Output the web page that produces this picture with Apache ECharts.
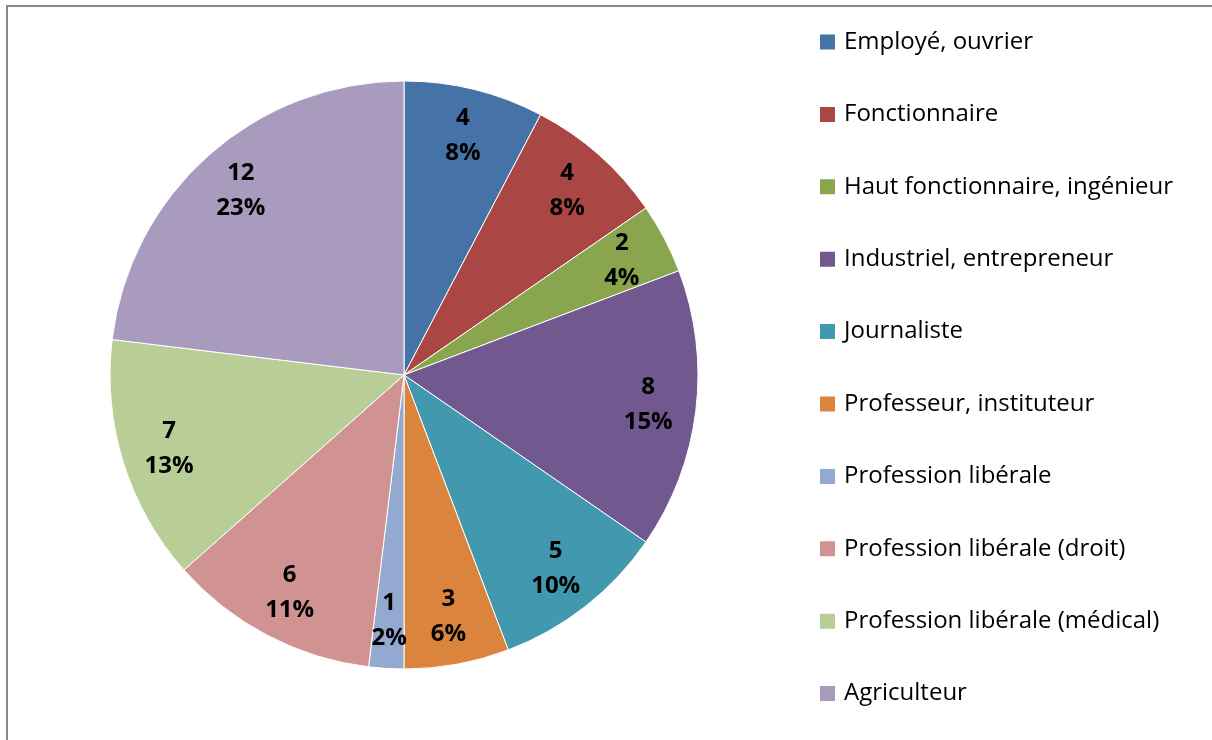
<!DOCTYPE html>
<html>
<head>
<meta charset="utf-8">
<script src="https://cdn.jsdelivr.net/npm/echarts@6/dist/echarts.min.js"></script>
<style>
  html, body { margin: 0; padding: 0; background: #fff; }
  #frame {
    position: absolute; left: 6px; top: 5px; right: -10px; bottom: -10px;
    border-left: 2px solid #888; border-top: 2px solid #888;
  }
  #myChart { position: absolute; left: 0; top: 0; width: 1212px; height: 740px; }
</style>
</head>
<body>
<div id="frame"></div>
<div id="myChart"></div>
<script>
// categories and values
var categories = ['Employé, ouvrier', 'Fonctionnaire', 'Haut fonctionnaire, ingénieur',
  'Industriel, entrepreneur', 'Journaliste', 'Professeur, instituteur',
  'Profession libérale', 'Profession libérale (droit)', 'Profession libérale (médical)', 'Agriculteur']
var counts = [4, 4, 2, 8, 5, 3, 1, 6, 7, 12]
// percentages as printed on the chart
var pctLabels = ['8%', '8%', '4%', '15%', '10%', '6%', '2%', '11%', '13%', '23%']
var colors = ['#4572A7', '#AA4643', '#89A54E', '#71588F', '#4198AF',
  '#DB843D', '#93A9CF', '#D19392', '#B9CD96', '#A99BBD']

var font = '"Open Sans", "Liberation Sans", sans-serif'
var pieData = categories.map(function (c, i) { return { name: c, value: counts[i] } })

var myChart = echarts.init(document.getElementById('myChart'))
myChart.setOption({
  animation: false,
  color: colors,
  legend: {
    orient: 'vertical',
    left: 818,
    top: 30,
    bottom: 0,
    padding: 0,
    icon: 'rect',
    itemWidth: 17,
    itemHeight: 17,
    itemGap: 48.4,
    data: categories,
    textStyle: {
      fontFamily: font,
      fontSize: 24,
      color: '#000',
      padding: [0, 0, 0, 3]
    }
  },
  series: [
    {
      type: 'pie',
      center: [404, 375],
      radius: [0, 294],
      startAngle: 90,
      clockwise: true,
      data: pieData,
      itemStyle: { borderColor: '#fff', borderWidth: 1 },
      label: { show: false },
      labelLine: { show: false },
      emphasis: { disabled: true }
    },
    {
      // transparent ring only used to place the labels near the outer edge
      type: 'pie',
      center: [404, 375],
      radius: [192, 294],
      startAngle: 90,
      clockwise: true,
      silent: true,
      legendHoverLink: false,
      data: pieData,
      itemStyle: { color: 'rgba(0,0,0,0)' },
      label: {
        show: true,
        position: 'inside',
        fontFamily: font,
        fontSize: 24,
        fontWeight: 'bold',
        color: '#000',
        lineHeight: 35,
        formatter: function (p) {
          return p.value + '\n' + pctLabels[p.dataIndex]
        }
      },
      labelLine: { show: false },
      emphasis: { disabled: true }
    }
  ]
})
</script>
</body>
</html>
